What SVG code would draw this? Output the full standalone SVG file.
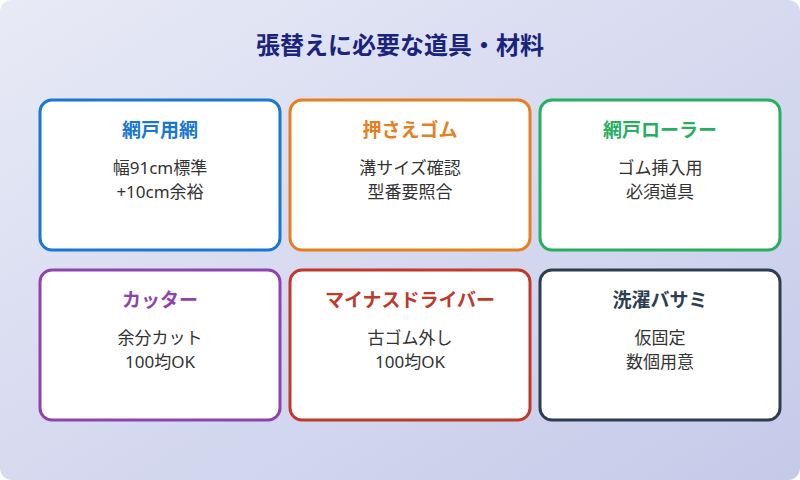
<svg xmlns="http://www.w3.org/2000/svg" width="800" height="480" viewBox="0 0 800 480">
<defs>
<linearGradient id="bg" x1="0" y1="0" x2="1" y2="1"><stop offset="0" stop-color="#e8eaf6"/><stop offset="1" stop-color="#c5cae9"/></linearGradient>
<style>
text{font-family:"Noto Sans","Noto Sans CJK JP",sans-serif;text-anchor:middle}
.card{fill:#fff;stroke-width:3}
.t{font-size:19px;font-weight:bold}
.b{font-size:17px;fill:#333}
</style>
</defs>
<rect width="800" height="480" rx="12" fill="url(#bg)"/>
<text x="400" y="54" font-size="24" font-weight="bold" fill="#1a237e">張替えに必要な道具・材料</text>
<g id="n1"><rect class="card" x="40" y="100" width="240" height="150" rx="12" stroke="#1976d2"/><text class="t" x="160" y="137" fill="#1976d2">網戸用網</text><text class="b" x="160" y="174">幅91cm標準</text><text class="b" x="160" y="198">+10cm余裕</text></g>
<g id="n2"><rect class="card" x="290" y="100" width="240" height="150" rx="12" stroke="#e67e22"/><text class="t" x="410" y="137" fill="#e67e22">押さえゴム</text><text class="b" x="410" y="174">溝サイズ確認</text><text class="b" x="410" y="198">型番要照合</text></g>
<g id="n3"><rect class="card" x="540" y="100" width="240" height="150" rx="12" stroke="#27ae60"/><text class="t" x="660" y="137" fill="#27ae60">網戸ローラー</text><text class="b" x="660" y="174">ゴム挿入用</text><text class="b" x="660" y="198">必須道具</text></g>
<g id="n4"><rect class="card" x="40" y="270" width="240" height="150" rx="12" stroke="#8e44ad"/><text class="t" x="160" y="307" fill="#8e44ad">カッター</text><text class="b" x="160" y="344">余分カット</text><text class="b" x="160" y="368">100均OK</text></g>
<g id="n5"><rect class="card" x="290" y="270" width="240" height="150" rx="12" stroke="#c0392b"/><text class="t" x="410" y="307" fill="#c0392b">マイナスドライバー</text><text class="b" x="410" y="344">古ゴム外し</text><text class="b" x="410" y="368">100均OK</text></g>
<g id="n6"><rect class="card" x="540" y="270" width="240" height="150" rx="12" stroke="#2c3e50"/><text class="t" x="660" y="307" fill="#2c3e50">洗濯バサミ</text><text class="b" x="660" y="344">仮固定</text><text class="b" x="660" y="368">数個用意</text></g>
<g id="connectors"/>
</svg>
